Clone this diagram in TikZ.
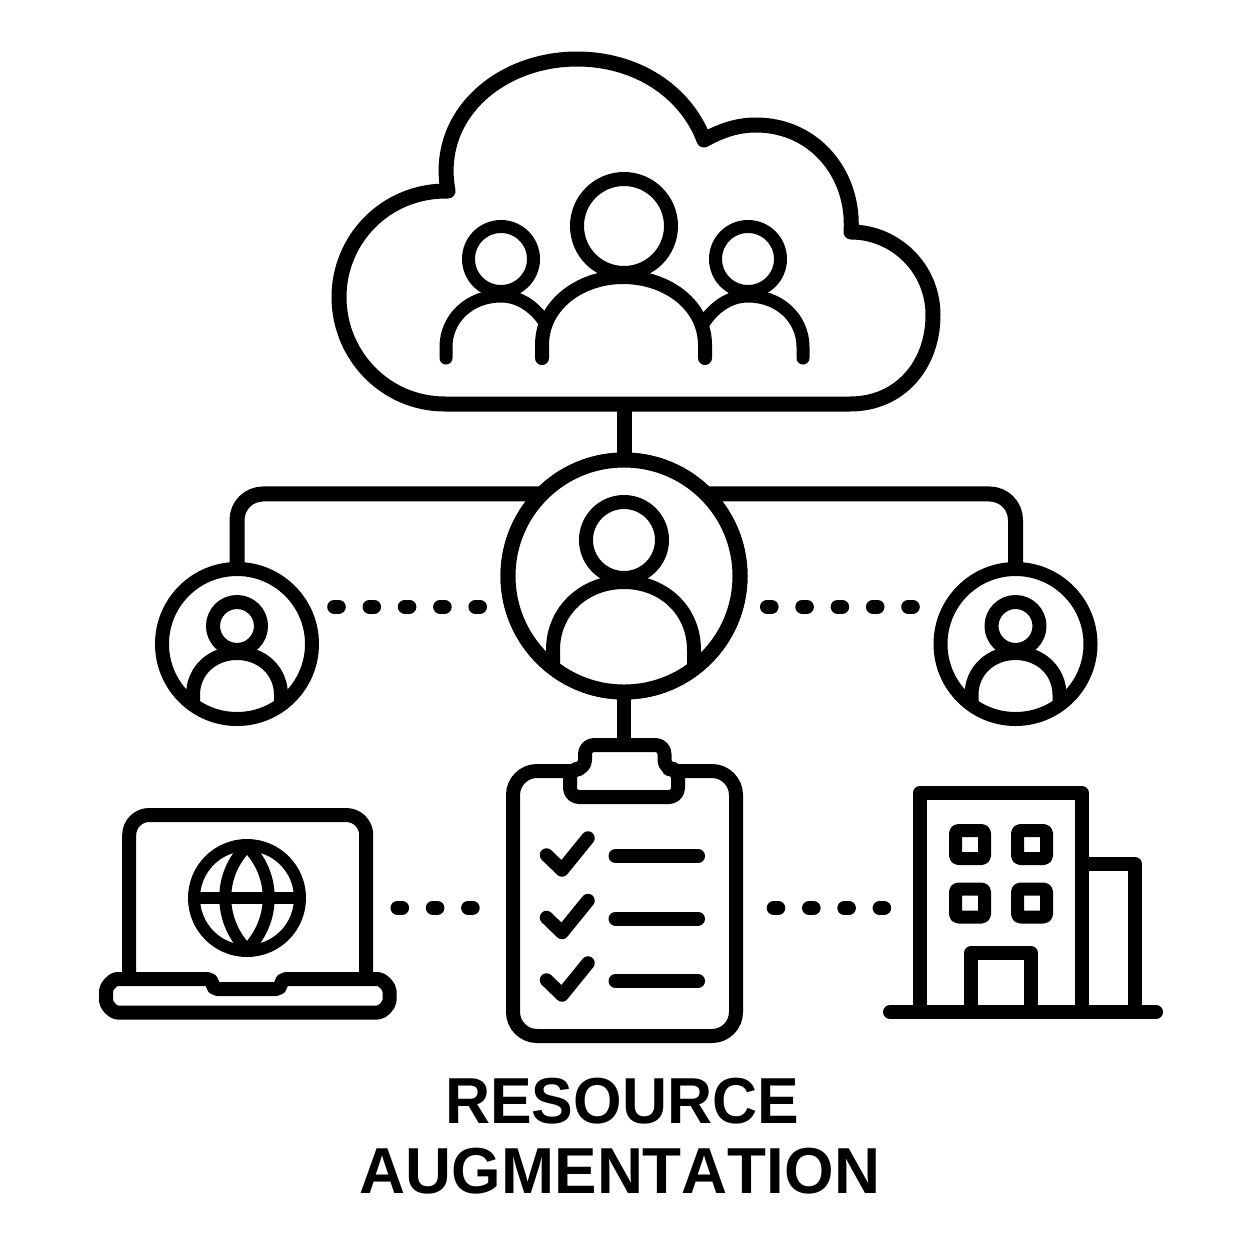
\documentclass[tikz,border=0pt]{standalone}
\usepackage{fontspec}
\setmainfont{Liberation Sans}[Kerning=Off]
\begin{document}
\begin{tikzpicture}[x=1pt,y=-1pt,line join=round,
	every node/.style={inner sep=0pt,outer sep=0pt},
	icon/.style={draw=black,line width=14pt},
	ringnode/.style={icon,circle,fill=white},
	boxnode/.style={icon,rectangle,fill=white,rounded corners=#1},
	boxnode/.default=22pt,
	winnode/.style={draw=black,line width=13pt,rectangle,rounded corners=3pt,minimum width=29pt,minimum height=28pt},
	dotline/.style={line width=14pt,line cap=round,dash pattern=on 4.6pt off 30.7pt},
	tick/.style={line width=13.5pt,line cap=round},
	titlenode/.style={font=\bfseries\fontsize{65}{70}\selectfont,anchor=base},
	]
	\useasboundingbox (0,0) rectangle (1254,1254);

	% the cloud
	\coordinate (cloudbase) at (624,404);
	\draw[icon,line width=15pt] (445,404) .. controls (385,404) and (339,355) .. (339,297)
		.. controls (339,240) and (385,190) .. (448,191)
		.. controls (434,115) and (500,59) .. (577,59)
		.. controls (635,59) and (685,90) .. (704,140)
		.. controls (722,130) and (738,125) .. (756,125)
		.. controls (815,125) and (855,175) .. (851,232)
		.. controls (895,232) and (933,268) .. (933,315)
		.. controls (933,365) and (900,404) .. (850,404) -- cycle;

	% people in the cloud
	\node[ringnode,line width=14pt,minimum size=94pt] (headmid) at (624,226) {};
	\foreach \x/\n in {501/left,748/right}
	\node[ringnode,line width=13pt,minimum size=65pt] (head\n) at (\x,259) {};
	\draw[icon,line cap=round,line width=13pt] (446,358) -- (446,347) .. controls (446,318) and (470,296) .. (501,296) .. controls (520,296) and (536,308) .. (546,324);
	\draw[icon,line cap=round,line width=13pt] (803,358) -- (803,347) .. controls (803,318) and (779,296) .. (748,296) .. controls (729,296) and (713,308) .. (703,324);
	\draw[icon,line cap=round] (542,358) -- (542,345) .. controls (542,305) and (580,277) .. (623,277) .. controls (667,277) and (705,305) .. (705,345) -- (705,358);

	% connectors of the middle row
	\node[ringnode,line width=15pt,minimum size=232pt] (lead) at (624,576) {};
	\node[ringnode,minimum size=150pt] (userleft) at (237,644) {};
	\node[ringnode,minimum size=150pt] (userright) at (1015.5,644) {};
	\coordinate (clipcap) at (624,745);
	\draw[icon,line width=15pt] (cloudbase) -- (lead);
	\draw[icon] (lead) -- (clipcap);
	\draw[icon,line width=15pt,rounded corners=26pt] (lead.north west) -| (userleft);
	\draw[icon,line width=15pt,rounded corners=26pt] (lead.north east) -| (userright);
	% put the rings back on top of the connectors
	\node[ringnode,line width=15pt,minimum size=232pt] at (lead) {};

	% people in the rings
	\node[ringnode,minimum size=76pt] (headlead) at (624,540) {};
	\draw[icon] (553,668) -- (553,650) .. controls (553,610) and (585,582) .. (624,582) .. controls (663,582) and (694,610) .. (694,650) -- (694,668);
	\foreach \x/\n in {237/left,1015.5/right}{
	\node[ringnode,minimum size=48pt] (head\n small) at (\x,626) {};
	\draw[icon] (\x-44,705) -- (\x-44,695) .. controls (\x-44,670) and (\x-24,653) .. (\x,653) .. controls (\x+24,653) and (\x+44,670) .. (\x+44,695) -- (\x+44,705);
	}

	% dots
	\coordinate (dota1) at (334.2,606.7);
	\coordinate (dota2) at (481,606.7);
	\coordinate (dotb1) at (767,606.7);
	\coordinate (dotb2) at (914,606.7);
	\coordinate (dotc1) at (397.5,907.7);
	\coordinate (dotc2) at (474,907.7);
	\coordinate (dotd1) at (773.7,908);
	\coordinate (dotd2) at (887,908);
	\draw[dotline] (dota1) -- (dota2);
	\draw[dotline] (dotb1) -- (dotb2);
	\draw[dotline] (dotc1) -- (dotc2);
	\draw[dotline] (dotd1) -- (dotd2);

	% the laptop
	\node[boxnode=20pt,minimum width=237pt,minimum height=190pt] (screen) at (247.7,910) {};
	\draw[icon,fill=white,rounded corners=5pt] (170,979) -- (212.5,979) -- (212.5,989) -- (281,989) -- (281,979) -- (373,979)
		.. controls (382.5,979) and (389.5,986.5) .. (389.5,995.7)
		.. controls (389.5,1005) and (382.5,1012.5) .. (373,1012.5) -- (122,1012.5)
		.. controls (113,1012.5) and (106,1005) .. (106,995.7)
		.. controls (106,986.5) and (113,979) .. (122,979) -- cycle;
	\node[draw=black,line width=12pt,circle,minimum size=106pt] (globe) at (247,898) {};
	\draw[line width=12pt] (247,846) .. controls (218,875) and (218,920) .. (247,950) .. controls (276,920) and (276,875) .. (247,846) -- cycle;
	\draw[line width=12pt] (globe.west) -- (globe.east);

	% the clipboard
	\node[boxnode=24pt,minimum width=223pt,minimum height=265pt] (board) at (624.5,903.5) {};
	\draw[icon,fill=white,rounded corners=9pt] (570,769) -- (570,797) -- (678,797) -- (678,769) -- (664.5,769) -- (664.5,745) -- (585,745) -- (585,769) -- cycle;
	\foreach \i/\y in {1/856,2/918.5,3/981}{
	\coordinate (tick\i) at (562,\y+14);
	\draw[tick,line join=round] (546.5,\y-1) -- (tick\i) -- (588,\y-18);
	\draw[tick,line width=14pt] (615.5,\y) -- (698,\y);
	}

	% the building
	\draw[icon] (919.7,1012) -- (919.7,793) -- (1082,793) -- (1082,1012);
	\draw[icon] (1082,864) -- (1135,864) -- (1135,1012);
	\foreach \x/\c in {970/a,1032/b}
	\foreach \y/\r in {844.5/a,903/b}
	\node[winnode] (win\c\r) at (\x,\y) {};
	\draw[icon] (971,1012) -- (971,953) -- (1031,953) -- (1031,1012);
	\coordinate (groundl) at (890,1012);
	\coordinate (groundr) at (1156,1012);
	\draw[icon,line cap=round] (groundl) -- (groundr);

	% title
	\node[titlenode,xscale=.96] (titlea) at (622,1123.5) {RESOURCE};
	\node[titlenode,xscale=.98] (titleb) at (620,1193.5) {AUGMENTATION};
\end{tikzpicture}
\end{document}
